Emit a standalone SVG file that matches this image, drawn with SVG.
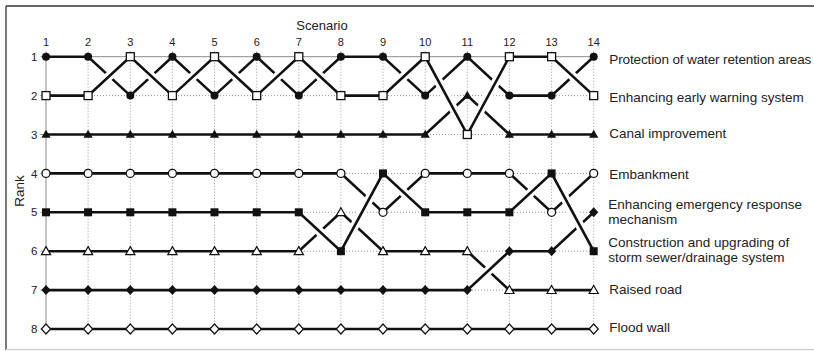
<svg xmlns="http://www.w3.org/2000/svg" xmlns:xlink="http://www.w3.org/1999/xlink" width="814" height="351" viewBox="0 0 814 351">
<style>
.t{font-family:"Liberation Sans",Arial,Helvetica,sans-serif;fill:#222}
.num{font-size:11px;text-anchor:middle}
.rk{font-size:11.5px;text-anchor:end}
.lab{font-size:13.5px}
.grid{stroke:#9a9a9a;stroke-width:1;stroke-dasharray:1 2;fill:none}
.axis{stroke:#8a8a8a;stroke-width:1;fill:none}
.ln{fill:none;stroke:#111;stroke-width:2.6;stroke-linejoin:miter}
.halo{fill:none;stroke:#fff;stroke-width:9}
</style>
<defs>
<circle id="fc" r="4" fill="#111"/>
<rect id="os" x="-4" y="-4" width="8" height="8" fill="#fff" stroke="#111" stroke-width="1.3"/>
<path id="ft" d="M0,-4.8 L4.6,3.2 L-4.6,3.2Z" fill="#111"/>
<circle id="oc" r="4" fill="#fff" stroke="#111" stroke-width="1.3"/>
<rect id="fs" x="-4" y="-4" width="8" height="8" fill="#111"/>
<path id="ot" d="M0,-4.6 L4.6,3.4 L-4.6,3.4Z" fill="#fff" stroke="#111" stroke-width="1.2"/>
<path id="fd" d="M0,-5 L4.6,0 L0,5 L-4.6,0Z" fill="#111"/>
<path id="od" d="M0,-5 L4.6,0 L0,5 L-4.6,0Z" fill="#fff" stroke="#111" stroke-width="1.2"/>
</defs>
<rect x="0" y="0" width="814" height="351" fill="#fff"/>
<g id="frame">
<line x1="6" y1="6" x2="814" y2="6" stroke="#333" stroke-width="1.3"/>
<line x1="6" y1="6" x2="6" y2="350" stroke="#333" stroke-width="1.3"/>
<line x1="6" y1="349.5" x2="814" y2="349.5" stroke="#d0d0d0" stroke-width="1.3"/>
</g>
<g id="grid">
<path class="grid" d="M88.1,56.7V329M130.3,56.7V329M172.4,56.7V329M214.5,56.7V329M256.7,56.7V329M298.8,56.7V329M340.9,56.7V329M383,56.7V329M425.2,56.7V329M467.3,56.7V329M509.4,56.7V329M551.6,56.7V329M593.7,56.7V329"/>
<path class="grid" d="M46,95.6H593.7M46,134.5H593.7M46,173.4H593.7M46,212.3H593.7M46,251.2H593.7M46,290.1H593.7M46,329H593.7"/>
<path class="axis" d="M46,56.7H593.7M46,56.7V329"/>
<path class="axis" d="M46,51.5V56.7M88.1,51.5V56.7M130.3,51.5V56.7M172.4,51.5V56.7M214.5,51.5V56.7M256.7,51.5V56.7M298.8,51.5V56.7M340.9,51.5V56.7M383,51.5V56.7M425.2,51.5V56.7M467.3,51.5V56.7M509.4,51.5V56.7M551.6,51.5V56.7M593.7,51.5V56.7"/>
<path class="axis" d="M40.5,56.7H46M40.5,95.6H46M40.5,134.5H46M40.5,173.4H46M40.5,212.3H46M40.5,251.2H46M40.5,290.1H46M40.5,329H46"/>
</g>
<g id="axis-labels" class="t">
<text x="322" y="29.5" font-size="13" text-anchor="middle">Scenario</text>
<text transform="translate(23.5,191) rotate(-90)" font-size="13.5" text-anchor="middle">Rank</text>
<text class="num" x="46" y="46">1</text>
<text class="num" x="88.1" y="46">2</text>
<text class="num" x="130.3" y="46">3</text>
<text class="num" x="172.4" y="46">4</text>
<text class="num" x="214.5" y="46">5</text>
<text class="num" x="256.7" y="46">6</text>
<text class="num" x="298.8" y="46">7</text>
<text class="num" x="340.9" y="46">8</text>
<text class="num" x="383" y="46">9</text>
<text class="num" x="425.2" y="46">10</text>
<text class="num" x="467.3" y="46">11</text>
<text class="num" x="509.4" y="46">12</text>
<text class="num" x="551.6" y="46">13</text>
<text class="num" x="593.7" y="46">14</text>
<text class="rk" x="37.5" y="60.8">1</text>
<text class="rk" x="37.5" y="99.7">2</text>
<text class="rk" x="37.5" y="138.6">3</text>
<text class="rk" x="37.5" y="177.5">4</text>
<text class="rk" x="37.5" y="216.4">5</text>
<text class="rk" x="37.5" y="255.3">6</text>
<text class="rk" x="37.5" y="294.2">7</text>
<text class="rk" x="37.5" y="333.1">8</text>
</g>
<g id="series-filled-circle">
<polyline class="ln" points="46,56.7 88.1,56.7 130.3,95.6 172.4,56.7 214.5,95.6 256.7,56.7 298.8,95.6 340.9,56.7 383,56.7 425.2,95.6 467.3,56.7 509.4,95.6 551.6,95.6 593.7,56.7"/>
</g>
<g id="series-filled-triangle">
<polyline class="ln" points="46,134.5 425.2,134.5 467.3,95.6 509.4,134.5 593.7,134.5"/>
</g>
<g id="series-open-square">
<path class="halo" d="M96.5,87.8L121.8,64.5M138.7,64.5L164,87.8M180.8,87.8L206.1,64.5M222.9,64.5L248.2,87.8M265.1,87.8L290.4,64.5M307.2,64.5L332.5,87.8M391.4,87.8L416.7,64.5M433.6,72.3L458.9,118.9M475.7,118.9L501,72.3M560,64.5L585.3,87.8"/>
<polyline class="ln" points="46,95.6 88.1,95.6 130.3,56.7 172.4,95.6 214.5,56.7 256.7,95.6 298.8,56.7 340.9,95.6 383,95.6 425.2,56.7 467.3,134.5 509.4,56.7 551.6,56.7 593.7,95.6"/>
</g>
<g id="series-open-circle">
<polyline class="ln" points="46,173.4 340.9,173.4 383,212.3 425.2,173.4 509.4,173.4 551.6,212.3 593.7,173.4"/>
</g>
<g id="series-open-triangle">
<polyline class="ln" points="46,251.2 298.8,251.2 340.9,212.3 383,251.2 467.3,251.2 509.4,290.1 593.7,290.1"/>
</g>
<g id="series-filled-diamond">
<path class="halo" d="M475.7,282.3L501,259M560,243.4L585.3,220.1"/>
<polyline class="ln" points="46,290.1 467.3,290.1 509.4,251.2 551.6,251.2 593.7,212.3"/>
</g>
<g id="series-filled-square">
<path class="halo" d="M307.2,220.1L332.5,243.4M349.3,235.6L374.6,189M391.4,181.2L416.7,204.5M517.8,204.5L543.2,181.2M560,189L585.3,235.6"/>
<polyline class="ln" points="46,212.3 298.8,212.3 340.9,251.2 383,173.4 425.2,212.3 509.4,212.3 551.6,173.4 593.7,251.2"/>
</g>
<g id="series-open-diamond">
<polyline class="ln" points="46,329 593.7,329"/>
</g>
<g id="markers">
<use href="#fc" x="46" y="56.7"/><use href="#fc" x="88.1" y="56.7"/><use href="#fc" x="130.3" y="95.6"/><use href="#fc" x="172.4" y="56.7"/><use href="#fc" x="214.5" y="95.6"/><use href="#fc" x="256.7" y="56.7"/><use href="#fc" x="298.8" y="95.6"/><use href="#fc" x="340.9" y="56.7"/><use href="#fc" x="383" y="56.7"/><use href="#fc" x="425.2" y="95.6"/><use href="#fc" x="467.3" y="56.7"/><use href="#fc" x="509.4" y="95.6"/><use href="#fc" x="551.6" y="95.6"/><use href="#fc" x="593.7" y="56.7"/>
<use href="#os" x="46" y="95.6"/><use href="#os" x="88.1" y="95.6"/><use href="#os" x="130.3" y="56.7"/><use href="#os" x="172.4" y="95.6"/><use href="#os" x="214.5" y="56.7"/><use href="#os" x="256.7" y="95.6"/><use href="#os" x="298.8" y="56.7"/><use href="#os" x="340.9" y="95.6"/><use href="#os" x="383" y="95.6"/><use href="#os" x="425.2" y="56.7"/><use href="#os" x="467.3" y="134.5"/><use href="#os" x="509.4" y="56.7"/><use href="#os" x="551.6" y="56.7"/><use href="#os" x="593.7" y="95.6"/>
<use href="#ft" x="46" y="134.5"/><use href="#ft" x="88.1" y="134.5"/><use href="#ft" x="130.3" y="134.5"/><use href="#ft" x="172.4" y="134.5"/><use href="#ft" x="214.5" y="134.5"/><use href="#ft" x="256.7" y="134.5"/><use href="#ft" x="298.8" y="134.5"/><use href="#ft" x="340.9" y="134.5"/><use href="#ft" x="383" y="134.5"/><use href="#ft" x="425.2" y="134.5"/><use href="#ft" x="467.3" y="95.6"/><use href="#ft" x="509.4" y="134.5"/><use href="#ft" x="551.6" y="134.5"/><use href="#ft" x="593.7" y="134.5"/>
<use href="#oc" x="46" y="173.4"/><use href="#oc" x="88.1" y="173.4"/><use href="#oc" x="130.3" y="173.4"/><use href="#oc" x="172.4" y="173.4"/><use href="#oc" x="214.5" y="173.4"/><use href="#oc" x="256.7" y="173.4"/><use href="#oc" x="298.8" y="173.4"/><use href="#oc" x="340.9" y="173.4"/><use href="#oc" x="383" y="212.3"/><use href="#oc" x="425.2" y="173.4"/><use href="#oc" x="467.3" y="173.4"/><use href="#oc" x="509.4" y="173.4"/><use href="#oc" x="551.6" y="212.3"/><use href="#oc" x="593.7" y="173.4"/>
<use href="#fs" x="46" y="212.3"/><use href="#fs" x="88.1" y="212.3"/><use href="#fs" x="130.3" y="212.3"/><use href="#fs" x="172.4" y="212.3"/><use href="#fs" x="214.5" y="212.3"/><use href="#fs" x="256.7" y="212.3"/><use href="#fs" x="298.8" y="212.3"/><use href="#fs" x="340.9" y="251.2"/><use href="#fs" x="383" y="173.4"/><use href="#fs" x="425.2" y="212.3"/><use href="#fs" x="467.3" y="212.3"/><use href="#fs" x="509.4" y="212.3"/><use href="#fs" x="551.6" y="173.4"/><use href="#fs" x="593.7" y="251.2"/>
<use href="#ot" x="46" y="251.2"/><use href="#ot" x="88.1" y="251.2"/><use href="#ot" x="130.3" y="251.2"/><use href="#ot" x="172.4" y="251.2"/><use href="#ot" x="214.5" y="251.2"/><use href="#ot" x="256.7" y="251.2"/><use href="#ot" x="298.8" y="251.2"/><use href="#ot" x="340.9" y="212.3"/><use href="#ot" x="383" y="251.2"/><use href="#ot" x="425.2" y="251.2"/><use href="#ot" x="467.3" y="251.2"/><use href="#ot" x="509.4" y="290.1"/><use href="#ot" x="551.6" y="290.1"/><use href="#ot" x="593.7" y="290.1"/>
<use href="#fd" x="46" y="290.1"/><use href="#fd" x="88.1" y="290.1"/><use href="#fd" x="130.3" y="290.1"/><use href="#fd" x="172.4" y="290.1"/><use href="#fd" x="214.5" y="290.1"/><use href="#fd" x="256.7" y="290.1"/><use href="#fd" x="298.8" y="290.1"/><use href="#fd" x="340.9" y="290.1"/><use href="#fd" x="383" y="290.1"/><use href="#fd" x="425.2" y="290.1"/><use href="#fd" x="467.3" y="290.1"/><use href="#fd" x="509.4" y="251.2"/><use href="#fd" x="551.6" y="251.2"/><use href="#fd" x="593.7" y="212.3"/>
<use href="#od" x="46" y="329"/><use href="#od" x="88.1" y="329"/><use href="#od" x="130.3" y="329"/><use href="#od" x="172.4" y="329"/><use href="#od" x="214.5" y="329"/><use href="#od" x="256.7" y="329"/><use href="#od" x="298.8" y="329"/><use href="#od" x="340.9" y="329"/><use href="#od" x="383" y="329"/><use href="#od" x="425.2" y="329"/><use href="#od" x="467.3" y="329"/><use href="#od" x="509.4" y="329"/><use href="#od" x="551.6" y="329"/><use href="#od" x="593.7" y="329"/>
</g>
<g id="row-labels" class="t lab">
<text x="609.3" y="64" textLength="202" lengthAdjust="spacing">Protection of water retention areas</text>
<text x="609.3" y="101.7">Enhancing early warning system</text>
<text x="609.3" y="138.3">Canal improvement</text>
<text x="609.3" y="179">Embankment</text>
<text x="608.3" y="209">Enhancing emergency response</text>
<text x="608.3" y="223.5">mechanism</text>
<text x="608.3" y="247.3">Construction and upgrading of</text>
<text x="608.3" y="261.7">storm sewer/drainage system</text>
<text x="609.3" y="294">Raised road</text>
<text x="609.3" y="331.7">Flood wall</text>
</g>
</svg>
